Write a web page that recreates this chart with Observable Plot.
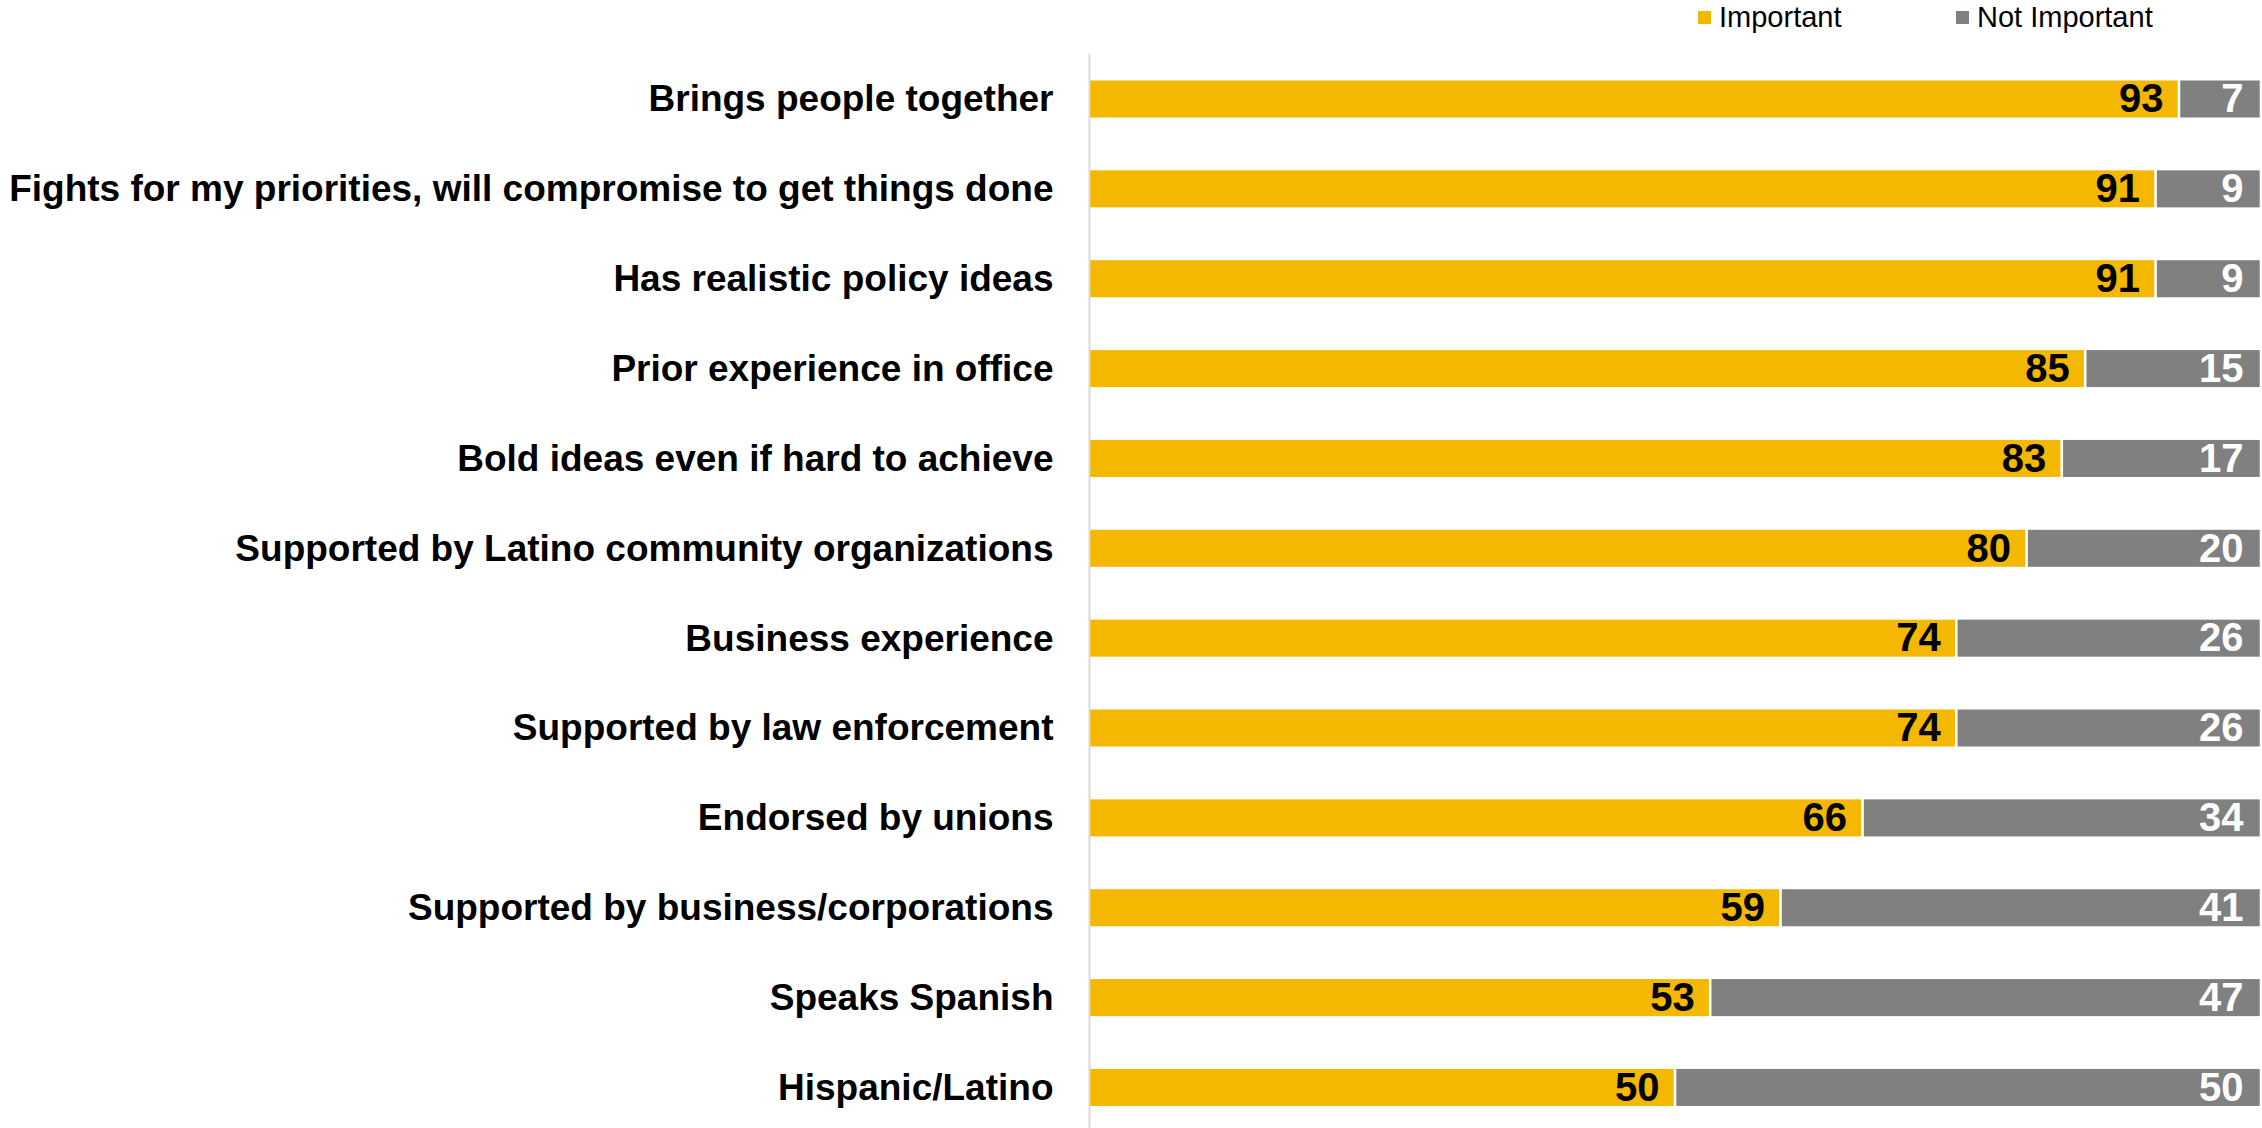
<!DOCTYPE html>
<html><head><meta charset="utf-8">
<script src="https://cdn.jsdelivr.net/npm/d3@7"></script>
<script src="https://cdn.jsdelivr.net/npm/@observablehq/plot@0.6"></script>
<style>
body{margin:0;background:#fff;font-family:"Liberation Sans",Arial,sans-serif;}
#legend{position:relative;height:40px;width:2262px;}
.item{position:absolute;top:0;height:34px;display:flex;align-items:center;font-size:29px;color:#000;white-space:nowrap;}
.sw{width:13px;height:13px;margin-right:8px;}
</style></head><body>
<div id="legend"></div>
<div id="chart"></div>
<script>
const categories = [
  "Brings people together",
  "Fights for my priorities, will compromise to get things done",
  "Has realistic policy ideas",
  "Prior experience in office",
  "Bold ideas even if hard to achieve",
  "Supported by Latino community organizations",
  "Business experience",
  "Supported by law enforcement",
  "Endorsed by unions",
  "Supported by business/corporations",
  "Speaks Spanish",
  "Hispanic/Latino"
];
const important = [93, 91, 91, 85, 83, 80, 74, 74, 66, 59, 53, 50];
const notImportant = [7, 9, 9, 15, 17, 20, 26, 26, 34, 41, 47, 50];
const seriesNames = ["Important", "Not Important"];
const seriesColors = ["#F5B800", "#808080"];

// legend
const legend = document.getElementById("legend");
const legendLeft = [1698, 1956];
seriesNames.forEach((name, i) => {
  const it = document.createElement("div");
  it.className = "item";
  it.style.left = legendLeft[i] + "px";
  const sw = document.createElement("span");
  sw.className = "sw";
  sw.style.background = seriesColors[i];
  it.appendChild(sw);
  it.appendChild(document.createTextNode(name));
  legend.appendChild(it);
});

const rows = categories.flatMap((c, i) => [
  {category: c, response: seriesNames[0], value: important[i]},
  {category: c, response: seriesNames[1], value: notImportant[i]}
]);
const totals = categories.map((c, i) => ({category: c, imp: important[i], not: notImportant[i]}));

const plot = Plot.plot({
  width: 2262,
  height: 1088,
  marginLeft: 1089,
  marginRight: 1,
  marginTop: 14,
  marginBottom: 0,
  x: {domain: [0, 100], axis: null},
  y: {domain: categories, paddingInner: 0.588, paddingOuter: 0.27, align: 0.546, round: false, axis: null},
  color: {domain: seriesNames, range: seriesColors},
  style: {fontFamily: "'Liberation Sans', Arial, sans-serif", background: "white", color: "black"},
  marks: [
    Plot.ruleX([0], {stroke: "#d9d9d9", strokeWidth: 2}),
    Plot.barX(rows, Plot.stackX({x: "value", y: "category", fill: "response", order: seriesNames, insetLeft: 1.3, insetRight: 1.3})),
    Plot.text(totals, {x: "imp", y: "category", text: d => String(d.imp), textAnchor: "end", dx: -16, fill: "black", fontSize: 40, fontWeight: "bold"}),
    Plot.text(totals, {x: d => d.imp + d.not, y: "category", text: d => String(d.not), textAnchor: "end", dx: -18, fill: "white", fontSize: 40, fontWeight: "bold"}),
    Plot.axisY({tickSize: 0, tickPadding: 36, fontSize: 37, fontWeight: "bold", fill: "black", textAnchor: "end", label: null})
  ]
});
document.getElementById("chart").appendChild(plot);
</script>
</body></html>
